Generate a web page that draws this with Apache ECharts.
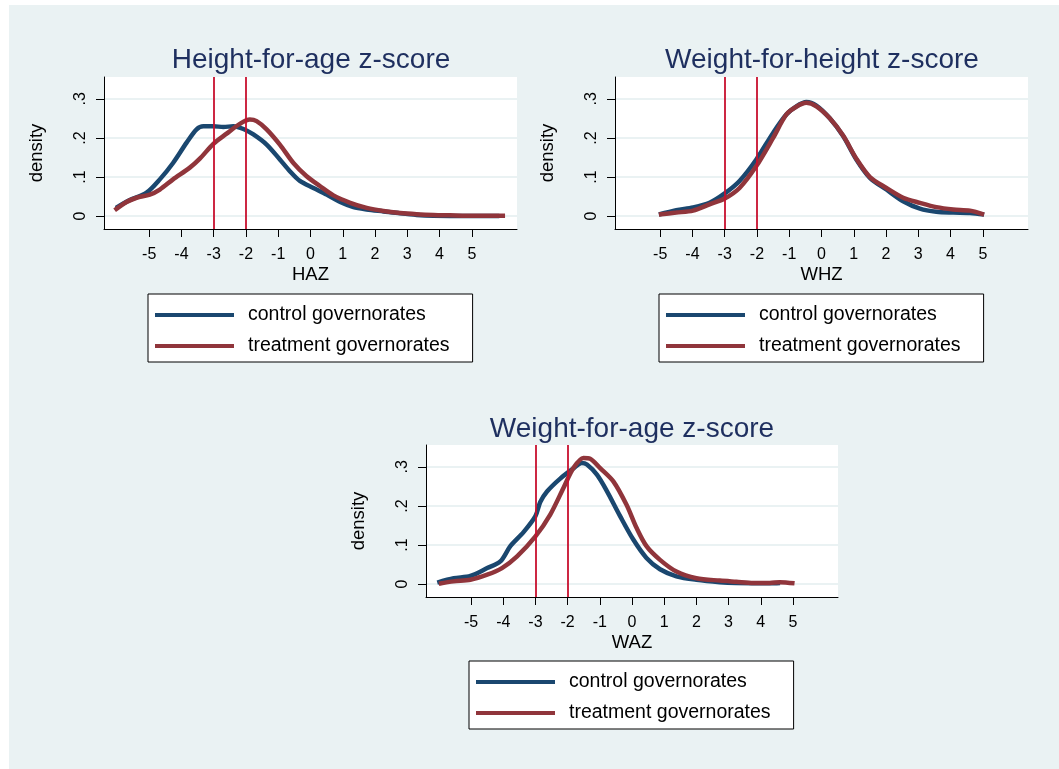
<!DOCTYPE html>
<html>
<head>
<meta charset="utf-8">
<script src="https://cdn.jsdelivr.net/npm/echarts@6/dist/echarts.min.js"></script>
<style>
html,body{margin:0;padding:0;background:#ffffff;}
#bg{position:absolute;left:9px;top:5px;width:1050px;height:764px;background:#eaf2f3;}
#chart{position:absolute;left:0;top:0;width:1059px;height:769px;}
</style>
</head>
<body>
<div id="bg"></div>
<div id="chart"></div>
<script>
// ---------------- data ----------------
const panelTitles = ['Height-for-age z-score', 'Weight-for-height z-score', 'Weight-for-age z-score'];
const axisNames = ['HAZ', 'WHZ', 'WAZ'];
const seriesNames = ['control governorates', 'treatment governorates'];
const xTicks = [-5, -4, -3, -2, -1, 0, 1, 2, 3, 4, 5];
const yTicks = [0, 0.1, 0.2, 0.3];
const cutoffs = [-3, -2];

// HAZ
const hazControlX = [-6.03,-5.6,-5.08,-4.67,-4.26,-3.84,-3.53,-3.32,-3.01,-2.7,-2.39,-2.08,-1.77,-1.36,-0.95,-0.64,-0.33,0.09,0.5,0.92,1.33,1.74,2.26,2.78,3.29,3.81,4.85,5.85];
const hazControlY = [0.021,0.041,0.06,0.094,0.136,0.188,0.222,0.23,0.23,0.228,0.23,0.223,0.209,0.183,0.145,0.115,0.09,0.072,0.055,0.036,0.023,0.017,0.012,0.007,0.003,0.001,0.0,0.0];
const hazTreatX = [-6.07,-5.7,-5.39,-4.98,-4.67,-4.26,-3.74,-3.43,-3.01,-2.6,-2.19,-1.88,-1.67,-1.36,-0.95,-0.53,-0.12,0.29,0.71,1.23,1.74,2.26,2.78,3.29,3.81,4.33,4.85,6.03];
const hazTreatY = [0.015,0.036,0.047,0.055,0.068,0.094,0.124,0.147,0.185,0.211,0.236,0.247,0.243,0.222,0.183,0.136,0.102,0.077,0.053,0.034,0.021,0.013,0.008,0.005,0.003,0.002,0.001,0.001];

// WHZ
const whzControlX = [-5.04,-4.5,-3.98,-3.47,-3.0,-2.54,-2.02,-1.5,-1.09,-0.78,-0.47,-0.16,0.25,0.67,1.08,1.5,2.01,2.53,3.05,3.56,4.08,4.6,5.04];
const whzControlY = [0.004,0.015,0.022,0.034,0.058,0.09,0.145,0.213,0.26,0.281,0.292,0.283,0.251,0.205,0.145,0.098,0.068,0.038,0.019,0.011,0.009,0.008,0.004];
const whzTreatX = [-5.04,-4.5,-3.98,-3.47,-3.0,-2.54,-2.02,-1.5,-1.09,-0.78,-0.47,-0.16,0.25,0.67,1.08,1.5,2.01,2.53,3.05,3.56,4.08,4.6,5.04];
const whzTreatY = [0.004,0.009,0.014,0.03,0.045,0.072,0.128,0.2,0.26,0.28,0.29,0.281,0.251,0.206,0.147,0.1,0.072,0.047,0.034,0.023,0.017,0.014,0.004];

// WAZ
const wazControlX = [-6.05,-5.54,-5.02,-4.5,-4.09,-3.78,-3.37,-3.0,-2.85,-2.64,-2.23,-1.82,-1.56,-1.4,-1.09,-0.78,-0.37,0.04,0.45,0.87,1.38,2.0,2.73,3.24,4.28,4.6];
const wazControlY = [0.004,0.015,0.021,0.041,0.058,0.097,0.133,0.174,0.21,0.237,0.27,0.296,0.31,0.306,0.28,0.238,0.174,0.114,0.067,0.038,0.02,0.011,0.005,0.003,0.002,0.003];
const wazTreatX = [-6.0,-5.54,-5.02,-4.5,-4.04,-3.57,-3.0,-2.54,-2.13,-1.82,-1.51,-1.3,-0.99,-0.58,-0.17,0.14,0.45,0.87,1.38,2.0,2.73,3.24,3.76,4.28,4.59,5.05];
const wazTreatY = [0.001,0.007,0.011,0.024,0.041,0.071,0.122,0.178,0.246,0.297,0.323,0.321,0.297,0.263,0.203,0.144,0.097,0.062,0.032,0.015,0.009,0.006,0.003,0.003,0.005,0.002];

// ---------------- chart ----------------
const FONT = '"Liberation Sans", Arial, sans-serif';
const CONTROL_COLOR = '#1a476f';
const TREAT_COLOR = '#90353b';
const CUTOFF_COLOR = '#c8102e';

const zip = (xs, ys) => xs.map((x, i) => [x, ys[i]]);
const curves = [
  [zip(hazControlX, hazControlY), zip(hazTreatX, hazTreatY)],
  [zip(whzControlX, whzControlY), zip(whzTreatX, whzTreatY)],
  [zip(wazControlX, wazControlY), zip(wazTreatX, wazTreatY)]
];

const grids = [
  {left: 104, top: 77, width: 413, height: 152},
  {left: 615, top: 77, width: 413, height: 152},
  {left: 426, top: 445, width: 412, height: 152}
];
const titlePos = [
  {x: 311, y: 46},
  {x: 822, y: 46},
  {x: 632, y: 415}
];
const legendPos = [
  {x: 148, y: 294},
  {x: 659, y: 294},
  {x: 469, y: 661}
];

const option = {
  animation: false,
  backgroundColor: 'transparent',
  title: panelTitles.map((t, i) => ({
    text: t,
    left: titlePos[i].x,
    top: titlePos[i].y,
    textAlign: 'center',
    padding: 0,
    textStyle: {fontFamily: FONT, fontSize: 28, fontWeight: 'normal', color: '#1e2f5f'}
  })),
  legend: legendPos.map((p, i) => ({
    left: p.x,
    top: p.y,
    orient: 'vertical',
    data: seriesNames,
    icon: 'rect',
    itemWidth: 79,
    itemHeight: 4,
    itemGap: 5,
    selectedMode: false,
    padding: [8, 23, 3, 7],
    backgroundColor: '#ffffff',
    borderColor: '#000000',
    borderWidth: 1,
    borderRadius: 0,
    itemStyle: {borderWidth: 0},
    lineStyle: {width: 0},
    textStyle: {fontFamily: FONT, fontSize: 19.5, color: '#000', lineHeight: 22, padding: [4, 0, 0, 9]}
  })),
  grid: grids.map(g => Object.assign({show: true, backgroundColor: '#ffffff', borderWidth: 0, containLabel: false}, g)),
  xAxis: axisNames.map((n, i) => ({
    type: 'value',
    gridIndex: i,
    min: -6.4,
    max: 6.4,
    name: n,
    nameLocation: 'middle',
    nameGap: 36,
    nameTextStyle: {fontFamily: FONT, fontSize: 18.5, color: '#000'},
    axisLine: {show: true, onZero: false, lineStyle: {color: '#000', width: 1}},
    axisTick: {show: true, inside: false, length: 8, lineStyle: {color: '#000', width: 1}, customValues: xTicks},
    axisLabel: {show: true, margin: 18, fontFamily: FONT, fontSize: 16, color: '#000', customValues: xTicks,
      formatter: v => String(v)},
    splitLine: {show: false}
  })),
  yAxis: axisNames.map((n, i) => ({
    type: 'value',
    gridIndex: i,
    min: -0.033,
    max: 0.356,
    name: 'density',
    nameLocation: 'middle',
    nameRotate: 90,
    nameGap: 58,
    nameTextStyle: {fontFamily: FONT, fontSize: 18.5, color: '#000'},
    axisLine: {show: true, onZero: false, lineStyle: {color: '#000', width: 1}},
    axisTick: {show: true, inside: false, length: 8, lineStyle: {color: '#000', width: 1}, customValues: yTicks},
    axisLabel: {show: true, rotate: 90, margin: 15, fontFamily: FONT, fontSize: 16, color: '#000', customValues: yTicks,
      formatter: v => (Math.abs(v) < 1e-9 ? '0' : '.' + Math.round(v * 10))},
    splitLine: {show: true, lineStyle: {color: '#eaf2f3', width: 2}}
  })),
  series: []
};

curves.forEach((pair, i) => {
  option.series.push({
    name: seriesNames[0],
    type: 'line',
    xAxisIndex: i,
    yAxisIndex: i,
    data: pair[0],
    showSymbol: false,
    symbol: 'none',
    smooth: 0.3,
    color: CONTROL_COLOR,
    lineStyle: {color: CONTROL_COLOR, width: 4.5},
    z: 3
  });
  option.series.push({
    name: seriesNames[1],
    type: 'line',
    xAxisIndex: i,
    yAxisIndex: i,
    data: pair[1],
    showSymbol: false,
    symbol: 'none',
    smooth: 0.3,
    color: TREAT_COLOR,
    lineStyle: {color: TREAT_COLOR, width: 4.5},
    z: 4,
    markLine: {
      silent: true,
      symbol: ['none', 'none'],
      label: {show: false},
      lineStyle: {color: CUTOFF_COLOR, width: 1.8, type: 'solid'},
      data: cutoffs.map(c => ({xAxis: c}))
    }
  });
});

const chart = echarts.init(document.getElementById('chart'), null, {renderer: 'canvas'});
chart.setOption(option);
</script>
</body>
</html>
